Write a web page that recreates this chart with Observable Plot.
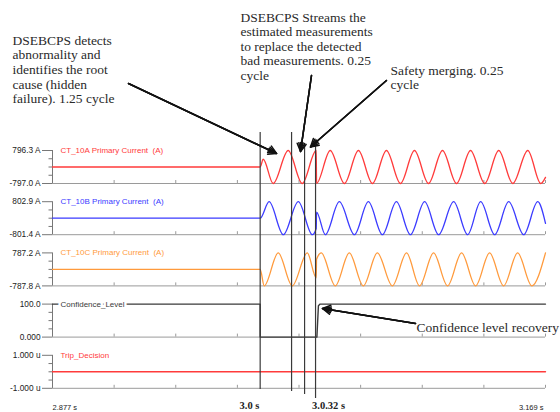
<!DOCTYPE html>
<html><head><meta charset="utf-8">
<script src="https://cdn.jsdelivr.net/npm/d3@7"></script>
<script src="https://cdn.jsdelivr.net/npm/@observablehq/plot@0.6"></script>
<style>html,body{margin:0;padding:0;background:#fff;} #chart svg{display:block;}</style>
</head><body><div id="chart"></div>
<script>
// ---- panels ----
const panelNames = ["CT_10A Primary Current  (A)", "CT_10B Primary Current  (A)", "CT_10C Primary Current  (A)", "Confidence_Level", "Trip_Decision"];
const panelMax = [796.3, 802.9, 787.2, 100, 1e-6];
const panelMin = [-797.0, -801.4, -787.8, 0, -1e-6];
const maxLabels = ["796.3 A", "802.9 A", "787.2 A", "100.0", "1.000 u"];
const minLabels = ["-797.0 A", "-801.4 A", "-787.8 A", "0.000", "-1.000 u"];
const panelColors = ["#ff3b3b", "#3b3bff", "#ff9a3c", "#3a3a3a", "#ff3b3b"];

// ---- time axis ----
const tStart = 2.877, tEnd = 3.169;
const gridTimes = [2.877, 2.9135, 2.95, 2.9865, 3.023, 3.0595, 3.096, 3.1325, 3.169];

// ---- series (time s, value): extrema of the waves ----
const ctA_time = [2.877, 3.0000, 3.0018, 3.0077, 3.0166, 3.0249, 3.0332, 3.0334, 3.0415, 3.0499, 3.0582, 3.0665, 3.0748, 3.0831, 3.0914, 3.0997, 3.1080, 3.1163, 3.1246, 3.1330, 3.1413, 3.1496, 3.1585, 3.1662, 3.169];
const ctA_value = [0, 0, 375, -797, 796, -797, 796, -790, 796, -797, 796, -797, 796, -797, 796, -797, 796, -797, 796, -797, 796, -797, 796, -797, -500];

const ctB_time = [2.877, 3.0000, 3.0053, 3.0137, 3.0226, 3.0309, 3.0332, 3.0334, 3.0386, 3.0469, 3.0558, 3.0641, 3.0724, 3.0807, 3.0890, 3.0974, 3.1057, 3.1146, 3.1229, 3.1306, 3.1389, 3.1472, 3.1561, 3.1644, 3.169];
const ctB_value = [0, 0, 802, -801, 802, -801, -500, 300, -801, 802, -801, 802, -801, 802, -801, 802, -801, 802, -801, 802, -801, 802, -801, 802, -250];

const ctC_time = [2.877, 3.0000, 3.0024, 3.0107, 3.0190, 3.0279, 3.0332, 3.0334, 3.0362, 3.0445, 3.0528, 3.0611, 3.0694, 3.0783, 3.0867, 3.0944, 3.1027, 3.1110, 3.1193, 3.1276, 3.1359, 3.1442, 3.1525, 3.1609, 3.169];
const ctC_value = [0, 0, -787, 787, -787, 787, -400, 480, 787, -787, 787, -787, 787, -787, 787, -787, 787, -787, 787, -787, 787, -787, 787, -787, 787];

const conf_time = [2.877, 3.0, 3.0, 3.0336, 3.0345, 3.0355, 3.169];
const conf_value = [100, 100, 0, 0, 95, 100, 100];

const trip_time = [2.877, 3.169];
const trip_value = [0, 0];

// ---- event markers ----
const eventTimes = [3.0, 3.0186, 3.0263, 3.0328];
const eventTop = [-0.35, -0.35, -0.137, -0.098];
const eventBottom = [4.668, 4.707, 4.766, 4.844];
const eventLabels = ["3.0 s", "3.0.32 s"];
const eventLabelTimes = [2.9937, 3.0405];

// ---- annotations ----
const notes = [
  {t: 2.8533, u: -2.262, text: "DSEBCPS detects\nabnormality and\nidentifies the root\ncause (hidden\nfailure). 1.25 cycle"},
  {t: 2.9883, u: -2.717, text: "DSEBCPS Streams the\nestimated measurements\nto replace the detected\nbad measurements. 0.25\ncycle"},
  {t: 3.0772, u: -1.682, text: "Safety merging. 0.25\ncycle"}
];
const recoveryNote = {t: 3.0926, u: 3.451, text: "Confidence level recovery"};
const arrows = [
  {t1: 2.9220, u1: -1.309, t2: 3.0097, u2: 0.059},
  {t1: 3.0304, u1: -1.465, t2: 3.0239, u2: 0.020},
  {t1: 3.0748, u1: -1.367, t2: 3.0298, u2: -0.068},
  {t1: 3.0920, u1: 3.379, t2: 3.0369, u2: 3.086}
];

// ---- layout in lane units (one lane per panel) ----
const LANE_H = 33 / 51.2;
const uTop = -150 / 51.2, uBottom = (412 - 150) / 51.2;
const lane = (i, v) => i + (panelMax[i] - v) / (panelMax[i] - panelMin[i]) * LANE_H;

const seriesT = [ctA_time, ctB_time, ctC_time, conf_time, trip_time];
const seriesV = [ctA_value, ctB_value, ctC_value, conf_value, trip_value];
const rows = [];
seriesT.forEach((ts, i) => ts.forEach((t, j) => rows.push({t, u: lane(i, seriesV[i][j]), p: i})));
const waves = rows.filter(d => d.p < 3);
const flat = rows.filter(d => d.p >= 3);

const idx = [0, 1, 2, 3, 4];
const majorTicks = [], majorLabel = new Map();
idx.forEach(i => { majorTicks.push(i, i + LANE_H); majorLabel.set(i, maxLabels[i]); majorLabel.set(i + LANE_H, minLabels[i]); });
const minorTicks = [];
idx.forEach(i => [1, 2, 3].forEach(k => minorTicks.push(i + LANE_H * k / 4)));
const gridRows = [];
idx.forEach(i => gridTimes.forEach(t => gridRows.push({t, u: i + LANE_H})));

const serif = "Liberation Serif, Times New Roman, serif";
const sans = "Liberation Sans, Arial, sans-serif";
const arrowMarks = [60, 38, 18].map(a => Plot.arrow(arrows, {x1: "t1", y1: "u1", x2: "t2", y2: "u2", stroke: "#111", strokeWidth: 1.5, headLength: 9, headAngle: a}));

const chart = Plot.plot({
  width: 560, height: 412,
  marginLeft: 52, marginRight: 15, marginTop: 0, marginBottom: 0,
  style: {fontFamily: sans, fontSize: "8px", color: "#333", background: "white", overflow: "visible"},
  x: {domain: [tStart, tEnd], axis: null},
  y: {domain: [uTop, uBottom], reverse: true, axis: null},
  marks: [
    // panel baselines with small grid ticks
    Plot.ruleY(idx, {y: i => i + LANE_H, x1: () => tStart, x2: () => tEnd, stroke: "#9a9a9a", strokeWidth: 1}),
    Plot.ruleX(gridRows, {x: "t", y1: "u", y2: d => d.u - 3 / 51.2, stroke: "#9a9a9a", strokeWidth: 1}),
    // left axis per panel
    Plot.ruleX(idx, {x: () => tStart, y1: i => i, y2: i => i + LANE_H, stroke: "#777", strokeWidth: 1}),
    Plot.axisY(majorTicks, {anchor: "left", tickSize: 10, tickPadding: 2, tickFormat: d => majorLabel.get(d), stroke: "#777", fill: "#222", fontSize: 8.3, fontFamily: sans, label: null}),
    Plot.axisY(minorTicks, {anchor: "left", tickSize: 3.5, tickFormat: () => "", stroke: "#777", label: null}),
    // signals
    Plot.line(waves, {x: "t", y: "u", z: "p", stroke: d => panelColors[d.p], strokeWidth: 1.3, curve: "monotone-x"}),
    Plot.line(flat, {x: "t", y: "u", z: "p", stroke: d => panelColors[d.p], strokeWidth: 1.4}),
    // event markers
    Plot.ruleX(eventTimes, {x: d => d, y1: (d, i) => eventTop[i], y2: (d, i) => eventBottom[i], stroke: "#3a3a3a", strokeWidth: 1.2}),
    // panel labels
    Plot.text(idx, {x: () => tStart, y: i => i, dx: 8, text: i => panelNames[i], fill: i => panelColors[i], textAnchor: "start", lineAnchor: "middle", fontSize: 8, fontFamily: sans, stroke: i => i === 3 ? "white" : "none", strokeWidth: 5}),
    // bottom time labels
    Plot.text([tStart], {x: d => d, y: () => 5.014, text: d => d.toFixed(3) + " s", textAnchor: "start", fontSize: 7.5, fill: "#222", fontFamily: sans}),
    Plot.text([tEnd], {x: d => d, y: () => 5.014, dx: -2, text: d => d.toFixed(3) + " s", textAnchor: "end", fontSize: 7.5, fill: "#222", fontFamily: sans}),
    Plot.text(eventLabels, {x: (d, i) => eventLabelTimes[i], y: () => 4.99, text: d => d, fontFamily: serif, fontWeight: "bold", fontSize: 10.5, fill: "#222"}),
    // annotations
    Plot.text(notes, {x: "t", y: "u", text: "text", textAnchor: "start", lineAnchor: "top", lineHeight: 1.075, fontFamily: serif, fontSize: 13.5, fill: "#2a2a2a"}),
    Plot.text([recoveryNote], {x: "t", y: "u", text: "text", textAnchor: "start", lineAnchor: "middle", fontFamily: serif, fontSize: 13.5, fill: "#2a2a2a"}),
    ...arrowMarks
  ]
});
document.getElementById("chart").append(chart);
</script>
</body></html>
